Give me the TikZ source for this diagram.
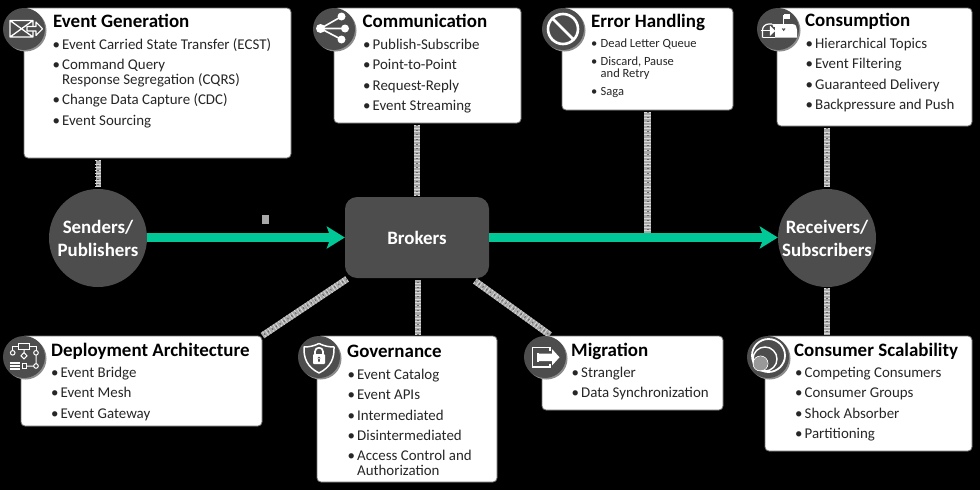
\documentclass[tikz,border=0pt]{standalone}
\usepackage{fontspec}
\setmainfont{Carlito}
\usetikzlibrary{arrows.meta,calc}
\definecolor{darkfill}{HTML}{4D4D4D}
\definecolor{tealgreen}{HTML}{00C896}
\definecolor{linkgray}{HTML}{A8A8A8}
\definecolor{bodytext}{HTML}{262626}
\newcommand{\bl}{\makebox[9pt][l]{\hspace*{-0.6pt}•}}
\newcommand{\fbl}{\rule{0pt}{12pt}\makebox[9pt][l]{\hspace*{-0.6pt}•}}
\newcommand{\ind}{\hspace*{9pt}}
\tikzset{
  card/.style={draw=black!55,line width=0.8pt,fill=white,rounded corners=4pt,minimum width=#1,inner sep=0pt},
  cardtitle/.style={anchor=base west,inner sep=0pt,font=\fontsize{18.95}{20}\selectfont\bfseries,text=black},
  itemlist/.style={anchor=north west,inner sep=0pt,align=left,text=bodytext,font=\fontsize{14.9}{14.7}\selectfont},
  smalllist/.style={anchor=north west,inner sep=0pt,align=left,text=bodytext,font=\fontsize{12.5}{12.2}\selectfont},
  hub/.style={circle,fill=darkfill,minimum size=98pt,inner sep=0pt,text=white,align=center,font=\fontsize{18.9}{23}\selectfont\bfseries},
  broker/.style={rectangle,rounded corners=12pt,fill=darkfill,minimum width=144pt,minimum height=81pt,inner sep=0pt,text=white,font=\fontsize{18.9}{20}\selectfont\bfseries},
  iconbase/.style={circle,fill=darkfill,minimum size=42pt,inner sep=0pt},
  flow/.style={line width=9pt,draw=tealgreen,-{Stealth[length=18pt,width=22pt,inset=4pt]}},
  link/.style={line width=6.5pt,draw=linkgray,
    postaction={draw=white!85!black,line width=6.5pt,dash pattern=on 0.8pt off 2.4pt},
    postaction={draw=black!60,line width=2pt,dash pattern=on 1pt off 3.7pt}},
  thinlink/.style={link,line width=5pt},
  iconline/.style={draw=white,line width=1.3pt,line join=round},
}
\newcommand{\iconbg}[3]{%
  \fill[black!45] (#2+1.5,#3+1.5) circle (21);
  \node[iconbase] (#1) at (#2,#3) {};}
\begin{document}
\begin{tikzpicture}[x=1pt,y=-1pt]
\fill[black] (0,0) rectangle (980,490);
\useasboundingbox (0,0) rectangle (980,490);

% hubs
\node[hub] (senders) at (98,238) {Senders/\\Publishers};
\node[hub] (receivers) at (827,238) {Receivers/\\Subscribers};
\node[broker] (brokers) at (417,237.5) {Brokers};

% cards
\node[card=267pt,minimum height=150pt] (gen) at (157.5,83) {};
\node[card=187pt,minimum height=115pt] (comm) at (427.5,65.5) {};
\node[card=171pt,minimum height=102pt] (err) at (647.5,59) {};
\node[card=195pt,minimum height=118pt] (cons) at (874.5,67) {};
\node[card=241pt,minimum height=90pt] (deploy) at (141.5,381) {};
\node[card=180pt,minimum height=146pt] (gov) at (407,409) {};
\node[card=181pt,minimum height=74pt] (migr) at (632.5,373) {};
\node[card=207pt,minimum height=115pt] (scal) at (868.5,393.5) {};

% grey links
\coordinate (genFoot) at ($(senders.north |- gen.south)+(0,2)$);
\coordinate (commFoot) at ($(brokers.north |- comm.south)+(0,1.5)$);
\coordinate (errFoot) at ($(err.south)+(0,1.5)$);
\coordinate (consFoot) at ($(receivers.north |- cons.south)+(0,2)$);
\draw[thinlink] (genFoot) -- ($(senders.north)+(0,-2)$);
\draw[link] (commFoot) -- ($(brokers.north)+(0,-1)$);
\draw[link] (errFoot) -- (err.south |- brokers.east);
\draw[link] (consFoot) -- ($(receivers.north)+(0,-2)$);
\draw[link] ($(receivers.south)+(0,1)$) -- ($(receivers.south |- scal.north)+(0,-1)$);
\draw[link] ($(brokers.south |- gov.north)+(1,-1)$) -- ($(brokers.south)+(1,2)$);
\coordinate (brokerSW) at (347,279);
\coordinate (brokerSE) at (475,281);
\coordinate (migrTop) at (550,335);
\draw[link] (brokerSW) -- (deploy.north east);
\draw[link] (brokerSE) -- (migrTop);
\fill[linkgray] (262,215) rectangle (268.5,224);

% main flows
\draw[flow] (senders.east |- brokers.west) -- (brokers.west);
\draw[flow] (brokers.east) -- (receivers.west |- brokers.east);

% titles and lists
\node[cardtitle] (t1) at (53,27) {Event Generation};
\node[itemlist] (l1) at (53,37) {\fbl Event Carried State Transfer (ECST)\\[5.7pt]\bl Command Query\\\ind Response Segregation (CQRS)\\[5.7pt]\bl Change Data Capture (CDC)\\[5.7pt]\bl Event Sourcing};

\node[cardtitle] (t2) at (362.5,27) {Communication};
\node[itemlist] (l2) at (363.5,37) {\fbl Publish-Subscribe\\[5.7pt]\bl Point-to-Point\\[5.7pt]\bl Request-Reply\\[5.7pt]\bl Event Streaming};

\node[cardtitle] (t3) at (591,27) {Error Handling};
\node[smalllist] (l3) at (591.5,35) {\fbl Dead Letter Queue\\[6pt]\bl Discard, Pause\\\ind and Retry\\[6pt]\bl Saga};

\node[cardtitle] (t4) at (805,26.5) {Consumption};
\node[itemlist] (l4) at (806,36) {\fbl Hierarchical Topics\\[5.7pt]\bl Event Filtering\\[5.7pt]\bl Guaranteed Delivery\\[5.7pt]\bl Backpressure and Push};

\node[cardtitle] (t5) at (51,356) {Deployment Architecture};
\node[itemlist] (l5) at (51.5,365) {\fbl Event Bridge\\[5.7pt]\bl Event Mesh\\[5.7pt]\bl Event Gateway};

\node[cardtitle] (t6) at (347,357) {Governance};
\node[itemlist] (l6) at (348,367) {\fbl Event Catalog\\[5.7pt]\bl Event APIs\\[5.7pt]\bl Intermediated\\[5.7pt]\bl Disintermediated\\[5.7pt]\bl Access Control and\\\ind Authorization};

\node[cardtitle] (t7) at (571,356) {Migration};
\node[itemlist] (l7) at (572,365) {\fbl Strangler\\[5.7pt]\bl Data Synchronization};

\node[cardtitle] (t8) at (794,356) {Consumer Scalability};
\node[itemlist] (l8) at (795.5,365) {\fbl Competing Consumers\\[5.7pt]\bl Consumer Groups\\[5.7pt]\bl Shock Absorber\\[5.7pt]\bl Partitioning};

% icon: envelope with arrow
\iconbg{i1}{24}{29}
\draw[iconline] (10,20.5) rectangle (33,37) (10,20.5) -- (33,37) (10,37) -- (33,20.5);
\filldraw[fill=darkfill,draw=white,line width=1.1pt,line join=round] (27,26.5) -- (36,26.5) -- (36,22) -- (42.5,28.8) -- (36,35.5) -- (36,31) -- (27,31) -- cycle;

% icon: share
\iconbg{i2}{334}{29}
\draw[white,line width=1.6pt] (320.5,28.5) -- (341.5,16.5) (320.5,28.5) -- (345,28.5) (320.5,28.5) -- (341.5,39.5);
\fill[white] (320.5,28.5) circle (4.5) (341.5,16.5) circle (4) (345,28.5) circle (4) (341.5,39.5) circle (4);

% icon: prohibition
\iconbg{i3}{563}{29}
\draw[white,line width=2.6pt] (563,29) circle (15) (552.5,18.5) -- (573.5,39.5);

% icon: mailbox
\iconbg{i4}{778}{29}
\fill[white] (772,24) -- (792,24) .. controls (796,24) and (797,27) .. (797,30) -- (797,37.5) -- (775,37.5) -- (775,30) -- cycle;
\draw[white,line width=1.2pt] (762.5,37.5) -- (762.5,30) .. controls (762.5,26) and (766,24) .. (769,24) -- (772,24);
\draw[white,line width=1.2pt] (762.5,37.5) -- (775,37.5);
\fill[darkfill] (771,27) rectangle (775,36);
\fill[white] (761,30.2) rectangle (771,31.4);
\filldraw[fill=white,draw=white,line join=round] (770,26) -- (775,30.8) -- (770,35.5) -- cycle;
\draw[darkfill,line width=0.9pt] (783.7,28.5) -- (783.7,30.5) (782.3,28.5) .. controls (782.3,31) and (785.1,31) .. (785.1,28.5);
\draw[white,line width=1.1pt] (783.5,24) -- (783.5,15);
\fill[white] (784,13.5) rectangle (790,19);

% icon: flowchart
\iconbg{i5}{24}{357}
\draw[white,line width=1pt] (18.5,343) rectangle (29.5,349.5);
\draw[white,line width=1pt] (24,349.5) -- (24,352.5) (24,352.5) -- (27,355.8) -- (24,359) -- (21,355.8) -- cycle;
\draw[white,line width=1pt] (18.5,346) -- (12.7,346) -- (12.7,350.5) (29.5,346) -- (36,346) -- (36,350.5);
\draw[white,line width=1pt] (12.7,352.8) circle (2.3) (36,352.8) circle (2.3) (36,355.2) -- (36,363.8) (36,366) circle (2.3) (33.7,366) -- (27,366);
\draw[white,line width=1pt] (22,363.8) rectangle (26.5,368.2);
\draw[white,line width=1.2pt] (9.5,363) -- (19.5,363) (9.5,366) -- (19.5,366) (9.5,369) -- (19.5,369);

% icon: shield with lock
\iconbg{i6}{319}{357}
\draw[white,line width=1.5pt,line join=round] (319,343.5) .. controls (324,346) and (329,347) .. (334,347) .. controls (334.5,358) and (331,367) .. (319,373) .. controls (307,367) and (303.5,358) .. (304,347) .. controls (309,347) and (314,346) .. (319,343.5) -- cycle;
\draw[white,line width=1.7pt] (315,354) -- (315,351.5) .. controls (315,346.5) and (323,346.5) .. (323,351.5) -- (323,354);
\fill[white,rounded corners=1pt] (313,354) rectangle (325,364);
\fill[darkfill] (319,358) circle (1.5) (318.2,358) rectangle (319.8,361.5);

% icon: exit arrow
\iconbg{i7}{545}{357}
\draw[white,line width=1.8pt,line join=miter] (550,351) -- (550,347.5) -- (532.5,347.5) -- (532.5,367) -- (550,367) -- (550,363.5);
\draw[white,line width=1.3pt] (538,353) -- (538,361.5);
\fill[white] (538,353.5) -- (552,353.5) -- (552,349) -- (559.5,357.3) -- (552,365.5) -- (552,361) -- (538,361) -- cycle;

% icon: concentric circles
\iconbg{i8}{768}{357}
\draw[white,line width=1.8pt] (768.5,355.5) circle (16.5);
\draw[white,line width=1.4pt] (765,359) circle (12);
\fill[black!40] (760.5,363.5) circle (7);
\draw[white,line width=0.7pt] (760.5,363.5) circle (7.5);
\end{tikzpicture}
\end{document}
